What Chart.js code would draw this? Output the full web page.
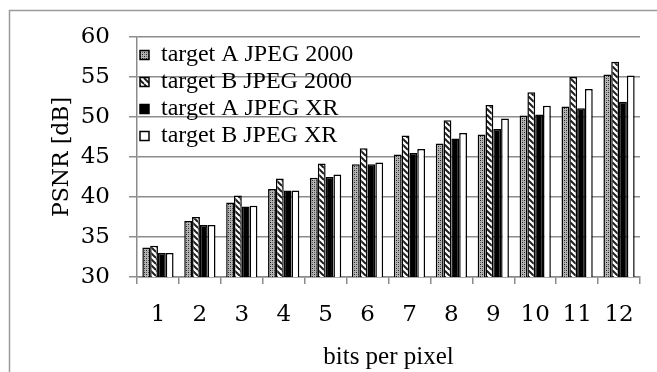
<!DOCTYPE html>
<html>
<head>
<meta charset="utf-8">
<title>PSNR vs bits per pixel</title>
<script src="https://cdn.jsdelivr.net/npm/chart.js@4.4.1/dist/chart.umd.min.js"></script>
<style>
  html, body { margin: 0; padding: 0; background: #fff; }
  #wrap { width: 657px; height: 372px; }
</style>
</head>
<body>
<div id="wrap"><canvas id="psnrChart" width="657" height="372"></canvas></div>
<script>
// ----- data -----
const bitsPerPixel = ['1', '2', '3', '4', '5', '6', '7', '8', '9', '10', '11', '12'];
const targetAJpeg2000 = [33.7, 37.0, 39.3, 41.0, 42.4, 44.1, 45.3, 46.7, 47.8, 50.2, 51.3, 55.3];
const targetBJpeg2000 = [33.9, 37.5, 40.2, 42.3, 44.2, 46.1, 47.7, 49.6, 51.5, 53.1, 55.0, 56.9];
const targetAJpegXR = [33.0, 36.5, 38.8, 40.8, 42.5, 44.1, 45.5, 47.3, 48.5, 50.3, 51.1, 51.9];
const targetBJpegXR = [33.0, 36.5, 38.9, 40.8, 42.8, 44.3, 46.0, 48.0, 49.8, 51.4, 53.5, 55.2];
const yTicks = [30, 35, 40, 45, 50, 55, 60];

const GRID = '#8c8c8c';

// stipple fill (target A JPEG 2000)
function makeStipple() {
  const c = document.createElement('canvas');
  c.width = 4; c.height = 4;
  const g = c.getContext('2d');
  g.fillStyle = '#b4b4b4';
  g.fillRect(0, 0, 4, 4);
  g.fillStyle = '#202020';
  g.fillRect(0, 0, 1, 1);
  g.fillRect(2, 2, 1, 1);
  g.fillStyle = '#686868';
  g.fillRect(2, 0, 1, 1);
  g.fillRect(0, 2, 1, 1);
  return g.createPattern(c, 'repeat');
}

// diagonal hatch fill (target B JPEG 2000)
function makeHatch() {
  const s = 6;
  const c = document.createElement('canvas');
  c.width = s; c.height = s;
  const g = c.getContext('2d');
  g.fillStyle = '#fff';
  g.fillRect(0, 0, s, s);
  g.strokeStyle = '#1e1e1e';
  g.lineWidth = 2;
  [-s, 0, s].forEach(k => {
    g.beginPath();
    g.moveTo(k, 0);
    g.lineTo(k + s, s);
    g.stroke();
  });
  return g.createPattern(c, 'repeat');
}

// outer frame of the figure (runs off the right and bottom edges)
// and keep the legend inside the plot area
const framePlugin = {
  id: 'frame',
  beforeDraw(chart) {
    const ctx = chart.ctx;
    ctx.save();
    ctx.strokeStyle = '#9a9a9a';
    ctx.lineWidth = 1.5;
    ctx.strokeRect(9.5, 10.5, 700, 400);
    ctx.restore();
    if (chart.legend) {
      chart.legend.top = chart.chartArea.top + 3;
      chart.legend.bottom = chart.chartArea.bottom;
    }
  }
};

function barSet(label, data, fill) {
  return {
    label: label,
    data: data,
    backgroundColor: fill,
    borderColor: '#000',
    borderWidth: 1.5,
    borderSkipped: false,
    categoryPercentage: 0.745,
    barPercentage: 1.0
  };
}

const ctx = document.getElementById('psnrChart');
new Chart(ctx, {
  type: 'bar',
  data: {
    labels: bitsPerPixel,
    datasets: [
      barSet('target A JPEG 2000', targetAJpeg2000, makeStipple()),
      barSet('target B JPEG 2000', targetBJpeg2000, makeHatch()),
      barSet('target A JPEG XR', targetAJpegXR, '#000'),
      barSet('target B JPEG XR', targetBJpegXR, '#fff')
    ]
  },
  options: {
    responsive: false,
    animation: false,
    layout: { padding: { top: 37, right: 17, left: 0, bottom: 0 } },
    plugins: {
      legend: {
        position: 'chartArea',
        align: 'start',
        labels: {
          boxWidth: 9,
          boxHeight: 9,
          padding: 3,
          color: '#000',
          font: { family: 'Liberation Serif', size: 24, lineHeight: 1.0 }
        }
      },
      tooltip: { enabled: false }
    },
    scales: {
      x: {
        afterFit: s => { s.height = 95; },
        grid: { offset: true, drawOnChartArea: false, drawTicks: true, tickLength: 7, color: GRID, lineWidth: 1.5 },
        border: { color: GRID, width: 1.5 },
        ticks: {
          color: '#000',
          padding: 17,
          font: { family: 'DejaVu Serif', size: 23 }
        },
        title: {
          display: true,
          text: 'bits per pixel',
          color: '#000',
          padding: { top: 0, bottom: 0 },
          font: { family: 'Liberation Serif', size: 25 }
        }
      },
      y: {
        min: 30,
        max: 60,
        afterFit: s => { s.width = 137; },
        afterBuildTicks: s => { s.ticks = yTicks.map(v => ({ value: v })); },
        grid: { color: GRID, lineWidth: 1.5, tickLength: 8 },
        border: { color: GRID, width: 1.5 },
        ticks: {
          color: '#000',
          padding: 19,
          font: { family: 'DejaVu Serif', size: 23 }
        },
        title: {
          display: true,
          text: 'PSNR [dB]',
          color: '#000',
          padding: { top: 49, bottom: 0 },
          font: { family: 'DejaVu Serif', size: 22 }
        }
      }
    }
  },
  plugins: [framePlugin]
});
</script>
</body>
</html>
